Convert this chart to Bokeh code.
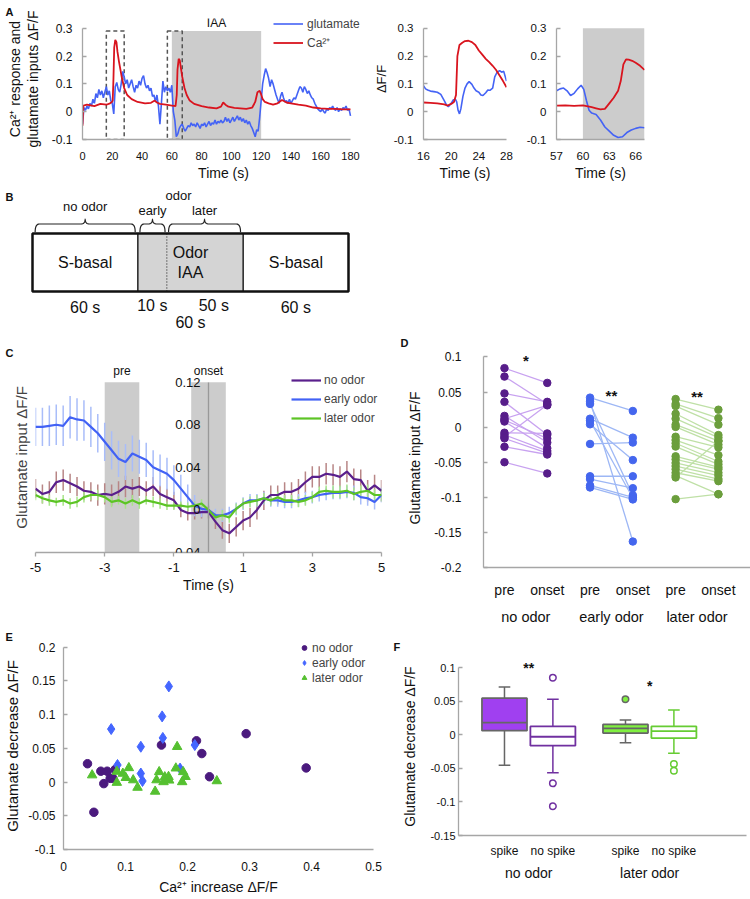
import numpy as np
from bokeh.plotting import figure
from bokeh.models import Range1d, FixedTicker, LinearAxis, Legend, LegendItem
from bokeh.layouts import column, row
from bokeh.embed import file_html
from bokeh.resources import INLINE
from bokeh.core.properties import value

FONT = "Liberation Sans"
AX = "#a6a6a6"
SHADE = "#cccccc"
BLUE = "#4463f5"
RED = "#d9141e"

# ================= DATA =================
# ---- Panel A: whole trace ----
A_GLU_T = list(range(181))
A_GLU = [
    -0.045, 0.015, 0.005, 0.020, 0.010, 0.030, 0.020, 0.045, 0.030, 0.065,
    0.050, 0.080, 0.060, 0.075, 0.050, 0.070, 0.090, 0.060, 0.075, 0.040,
    0.030, -0.008, 0.090, 0.105, 0.080, 0.070, 0.100, 0.145, 0.125, 0.100,
    0.115, 0.085, 0.100, 0.115, 0.090, 0.070, 0.095, 0.085, 0.110, 0.095,
    0.120, 0.130, 0.100, 0.085, 0.095, 0.075, 0.085, 0.055, 0.060, 0.035,
    0.060, 0.020, -0.045, 0.030, 0.110, 0.070, 0.090, 0.075, 0.085, 0.070,
    0.095, 0.000, -0.030, -0.090, -0.080, -0.060, -0.050, -0.045, -0.060, -0.070,
    -0.060, -0.050, -0.055, -0.040, -0.050, -0.045, -0.055, -0.040, -0.050, -0.060,
    -0.045, -0.050, -0.040, -0.055, -0.045, -0.035, -0.050, -0.040, -0.045, -0.030,
    -0.045, -0.035, -0.040, -0.030, -0.040, -0.035, -0.020, -0.035, -0.025, -0.040,
    -0.030, -0.020, -0.035, -0.025, -0.015, -0.030, -0.020, -0.035, -0.025, -0.040,
    -0.030, -0.045, -0.035, -0.050, -0.060, -0.075, -0.090, -0.065, -0.070, -0.020,
    0.040, 0.100, 0.130, 0.155, 0.140, 0.120, 0.090, 0.115, 0.100, 0.080,
    0.060, 0.045, 0.030, 0.055, 0.070, 0.050, 0.035, 0.040, 0.030, 0.045,
    0.030, 0.040, 0.050, 0.045, 0.060, 0.075, 0.090, 0.085, 0.070, 0.090,
    0.080, 0.065, 0.075, 0.060, 0.050, 0.045, 0.030, 0.020, 0.010, 0.005,
    0.000, 0.010, 0.000, -0.005, 0.010, 0.005, 0.015, 0.010, 0.020, 0.010,
    0.005, 0.015, 0.000, 0.010, 0.005, 0.015, 0.010, 0.020, 0.005, 0.010,
    -0.015]
A_CA_T = [0, 0.6, 3, 8, 12, 16, 18.5, 19.8, 20.3, 20.8,
          21.3, 22.0, 22.8, 23.5, 24.5, 25.5, 26.5, 28, 30, 33,
          37, 42, 46, 48.5, 50, 52, 56, 60, 62.5, 63.3,
          63.8, 64.6, 65.3, 66, 67, 68.5, 70, 72, 75, 80,
          85, 90, 93, 94.5, 96, 98, 102, 106, 110, 114,
          116, 117.5, 119, 120, 121, 122.5, 125, 128, 131, 134,
          137, 140, 145, 150, 155, 160, 165, 170, 175, 180]
A_CA = [-0.050, 0.022, 0.025, 0.020, 0.028, 0.025, 0.030, 0.035, 0.040, 0.120,
        0.230, 0.258, 0.250, 0.215, 0.180, 0.150, 0.120, 0.085, 0.060, 0.045,
        0.035, 0.030, 0.032, 0.040, 0.033, 0.028, 0.025, 0.022, 0.020, 0.060,
        0.150, 0.190, 0.185, 0.160, 0.125, 0.085, 0.060, 0.040, 0.028, 0.020,
        0.015, 0.012, 0.018, 0.033, 0.025, 0.018, 0.014, 0.012, 0.010, 0.015,
        0.035, 0.070, 0.075, 0.062, 0.045, 0.035, 0.030, 0.025, 0.030, 0.042,
        0.033, 0.030, 0.025, 0.022, 0.015, 0.012, 0.010, 0.010, 0.008, 0.008]
IAA_WINDOW = (60, 120)
ZOOM_WINDOWS = [(16, 28), (57, 67)]
A_X_TICKS = [0, 20, 40, 60, 80, 100, 120, 140, 160, 180]
A_Y_TICKS = [-0.1, 0, 0.1, 0.2, 0.3]
A_Y_LABELS = ["-0.1", "0", "0.1", "0.2", "0.3"]

# ---- Panel A insets ----
IN1_CA_T = [16, 17, 18, 19, 19.5, 20, 20.4, 20.7, 20.9, 21.2, 21.6, 22, 22.5, 23,
            23.5, 24, 24.5, 25, 25.5, 26, 26.5, 27, 27.5, 28]
IN1_CA = [0.033, 0.032, 0.030, 0.026, 0.022, 0.028, 0.035, 0.060, 0.200, 0.240, 0.248,
          0.254, 0.255, 0.250, 0.240, 0.220, 0.205, 0.190, 0.178, 0.165, 0.150, 0.130,
          0.110, 0.088]
IN1_GLU_T = [16, 16.3, 16.6, 17, 17.5, 18, 18.5, 19, 19.3, 19.6, 20, 20.3, 20.6, 20.8,
             21, 21.2, 21.4, 21.7, 22, 22.3, 22.6, 23, 23.3, 23.6, 24, 24.3, 24.6, 25,
             25.3, 25.6, 26, 26.3, 26.6, 27, 27.3, 27.6, 28]
IN1_GLU = [0.093, 0.082, 0.078, 0.074, 0.072, 0.070, 0.062, 0.040, 0.025, 0.018, 0.030,
           0.042, 0.045, 0.035, 0.005, -0.008, 0.010, 0.055, 0.085, 0.100, 0.108, 0.098,
           0.085, 0.075, 0.070, 0.060, 0.058, 0.068, 0.078, 0.077, 0.085, 0.125, 0.140,
           0.148, 0.142, 0.145, 0.110]
IN1_X_TICKS = [16, 20, 24, 28]
IN2_CA_T = [57, 58, 59, 60, 61, 61.5, 62, 62.5, 63, 63.5, 64, 64.3, 64.6, 64.9, 65.2,
            65.6, 66, 66.5, 67]
IN2_CA = [0.022, 0.023, 0.021, 0.023, 0.016, 0.012, 0.008, 0.010, 0.030, 0.050, 0.075,
          0.110, 0.170, 0.188, 0.187, 0.183, 0.176, 0.165, 0.150]
IN2_GLU_T = [57, 57.4, 57.8, 58.2, 58.6, 59, 59.4, 59.8, 60.1, 60.4, 60.7, 61, 61.5, 62,
             62.5, 63, 63.5, 64, 64.5, 65, 65.5, 66, 66.5, 67]
IN2_GLU = [0.075, 0.082, 0.085, 0.075, 0.058, 0.066, 0.082, 0.095, 0.080, 0.040, 0.005,
           -0.005, -0.010, -0.030, -0.055, -0.070, -0.085, -0.093, -0.090, -0.075,
           -0.066, -0.060, -0.056, -0.058]
IN2_X_TICKS = [57, 60, 63, 66]

# ---- Panel B: protocol ----
B_SEG_NAMES = ["S-basal", "Odor\nIAA", "S-basal"]
B_SEG_DUR = [60, 60, 60]
B_SEG_LABELS = ["60 s", "60 s", "60 s"]
B_EARLY_LABEL, B_LATER_LABEL = "10 s", "50 s"
B_BRACE_LABELS = ["no odor", "early", "later"]
B_ODOR_LABEL = "odor"

# ---- Panel C: averaged traces ----
C_T = np.round(np.arange(-5, 5.001, 0.2), 1)
C_NO = [0.020, 0.015, 0.017, 0.026, 0.028, 0.025, 0.022, 0.018, 0.017, 0.014,
        0.015, 0.014, 0.017, 0.022, 0.020, 0.022, 0.018, 0.022, 0.015, 0.012,
        0.009, 0.000, -0.003, -0.003, -0.002, -0.002, -0.011, -0.019, -0.022, -0.016,
        -0.010, -0.007, 0.000, 0.009, 0.014, 0.014, 0.017, 0.017, 0.020, 0.026,
        0.031, 0.031, 0.034, 0.033, 0.031, 0.036, 0.029, 0.028, 0.018, 0.023,
        0.018]
C_NO_ERR = [0.009, 0.009, 0.010, 0.010, 0.010, 0.009, 0.009, 0.009, 0.009, 0.010,
            0.010, 0.010, 0.010, 0.010, 0.009, 0.009, 0.009, 0.009, 0.008, 0.008,
            0.008, 0.007, 0.007, 0.006, 0.006, 0.006, 0.007, 0.008, 0.009, 0.009,
            0.009, 0.009, 0.009, 0.009, 0.009, 0.009, 0.009, 0.009, 0.009, 0.010,
            0.010, 0.010, 0.010, 0.010, 0.010, 0.010, 0.010, 0.010, 0.010, 0.010,
            0.010]
C_EARLY = [0.078, 0.078, 0.079, 0.080, 0.079, 0.087, 0.085, 0.084, 0.078, 0.072,
           0.064, 0.056, 0.048, 0.045, 0.053, 0.050, 0.047, 0.040, 0.037, 0.034,
           0.028, 0.020, 0.012, 0.004, 0.001, 0.000, -0.005, -0.005, -0.003, 0.001,
           0.006, 0.009, 0.009, 0.011, 0.009, 0.009, 0.0075, 0.0075, 0.009, 0.011,
           0.012, 0.014, 0.015, 0.016, 0.016, 0.017, 0.016, 0.012, 0.011, 0.0075,
           0.014]
C_EARLY_ERR = [0.018, 0.018, 0.019, 0.019, 0.019, 0.020, 0.020, 0.019, 0.019, 0.018,
               0.018, 0.018, 0.017, 0.017, 0.017, 0.016, 0.016, 0.016, 0.015, 0.015,
               0.014, 0.013, 0.012, 0.010, 0.008, 0.006, 0.006, 0.006, 0.006, 0.006,
               0.006, 0.006, 0.006, 0.006, 0.006, 0.006, 0.006, 0.006, 0.006, 0.006,
               0.006, 0.006, 0.006, 0.006, 0.006, 0.006, 0.007, 0.007, 0.007, 0.007,
               0.007]
C_LATER = [0.014, 0.011, 0.009, 0.0075, 0.009, 0.006, 0.0075, 0.012, 0.014, 0.014,
           0.012, 0.0075, 0.009, 0.006, 0.009, 0.006, 0.009, 0.0075, 0.006, 0.004,
           0.004, 0.004, 0.003, 0.004, 0.006, 0.000, -0.007, -0.005, -0.007, 0.001,
           0.006, 0.0075, 0.009, 0.011, 0.009, 0.012, 0.009, 0.009, 0.0075, 0.009,
           0.012, 0.017, 0.018, 0.017, 0.017, 0.018, 0.015, 0.017, 0.018, 0.014,
           0.014]
C_LATER_ERR = [0.005, 0.005, 0.005, 0.004, 0.005, 0.005, 0.005, 0.005, 0.005, 0.005,
               0.005, 0.005, 0.004, 0.005, 0.005, 0.005, 0.004, 0.005, 0.005, 0.004,
               0.004, 0.004, 0.004, 0.004, 0.004, 0.004, 0.004, 0.005, 0.005, 0.005,
               0.005, 0.005, 0.005, 0.005, 0.005, 0.005, 0.005, 0.005, 0.005, 0.005,
               0.005, 0.005, 0.005, 0.006, 0.006, 0.006, 0.006, 0.006, 0.006, 0.006,
               0.006]
C_PRE_WIN = (-3, -2)
C_ONSET_WIN = (-0.5, 0.5)
C_X_TICKS = [-5, -3, -1, 1, 3, 5]
C_Y_TICKS = [-0.04, 0, 0.04, 0.08, 0.12]
C_Y_LABELS = ["-0.04", "0", "0.04", "0.08", "0.12"]

# ---- Panel D: paired pre / onset ----
D_GROUPS = ["no odor", "early odor", "later odor"]
D_SUB = ["pre", "onset"]
D_NO_PRE = [0.084, 0.072, 0.048, 0.036, 0.016, 0.012, 0.008, -0.008, -0.011, -0.014,
            -0.016, -0.028, -0.050, 0.010]
D_NO_ONSET = [0.063, 0.033, 0.036, -0.011, -0.022, 0.031, -0.030, -0.009, -0.034,
              0.032, -0.037, -0.039, -0.066, -0.016]
D_EARLY_PRE = [0.042, 0.037, 0.033, 0.012, 0.009, 0.004, -0.024, -0.070, -0.074,
               -0.083, -0.086]
D_EARLY_ONSET = [0.023, -0.163, -0.097, -0.015, -0.101, -0.047, -0.022, -0.070,
                 -0.087, -0.100, -0.103]
D_LATER_PRE = [0.040, 0.033, 0.030, 0.019, 0.012, 0.0035, 0.0003, -0.0137, -0.0184,
               -0.023, -0.0277, -0.0416, -0.046, -0.051, -0.0555, -0.060, -0.065,
               -0.069, -0.0717, -0.1026]
D_LATER_ONSET = [0.0248, 0.0128, 0.0035, -0.0113, -0.015, -0.0197, -0.025, -0.029,
                 -0.040, -0.049, -0.053, -0.057, -0.060, -0.065, -0.069, -0.074,
                 -0.077, -0.0956, -0.0197, -0.0956]
D_STARS = ["*", "**", "**"]
D_STAR_Y = [0.101, 0.051, 0.049]
D_Y_TICKS = [-0.2, -0.15, -0.1, -0.05, 0, 0.05, 0.1]
D_Y_LABELS = ["-0.2", "-0.15", "-0.1", "-0.05", "0", "0.05", "0.1"]

# ---- Panel E: scatter ----
E_NO_X = [0.0387, 0.0602, 0.0704, 0.0753, 0.0796, 0.0833, 0.065, 0.049, 0.158, 0.2145,
          0.2231, 0.2355, 0.2946, 0.3914]
E_NO_Y = [0.0272, 0.0161, 0.0161, 0.0055, 0.0055, 0.0185, -0.0023, -0.0448, 0.0549,
          0.0612, 0.0423, 0.0079, 0.0718, 0.0210]
E_EARLY_X = [0.0769, 0.0871, 0.1247, 0.1247, 0.1274, 0.1591, 0.1602, 0.1699, 0.2118, 0.188]
E_EARLY_Y = [0.0786, 0.0253, 0.0524, 0.0127, 0.0016, 0.0974, 0.0655, 0.1419, 0.0549, 0.020]
E_LATER_X = [0.0462, 0.086, 0.086, 0.0957, 0.1005, 0.1054, 0.1124, 0.1194, 0.1478, 0.150,
             0.1543, 0.1613, 0.1634, 0.1694, 0.1704, 0.1812, 0.1833, 0.1914, 0.193,
             0.1968, 0.2473]
E_LATER_Y = [0.0103, 0.0156, -0.0008, 0.0127, 0.0064, 0.021, 0.003, -0.0081, -0.0139,
             0.003, 0.0151, 0.0002, 0.0074, 0.0079, 0.0026, 0.0205, 0.0524, 0.0002,
             0.0151, 0.0079, 0.0016]
E_X_TICKS = [0, 0.1, 0.2, 0.3, 0.4, 0.5]
E_X_LABELS = ["0", "0.1", "0.2", "0.3", "0.4", "0.5"]
E_Y_TICKS = [-0.1, -0.05, 0, 0.05, 0.1, 0.15, 0.2]
E_Y_LABELS = ["-0.1", "-0.05", "0", "0.05", "0.1", "0.15", "0.2"]

# ---- Panel F: box plots ----
F_POS = [0, 1, 2.5, 3.5]
F_SUB = ["spike", "no spike", "spike", "no spike"]
F_GROUPS = ["no odor", "later odor"]
F_WHISK_HI = [0.071, 0.053, 0.022, 0.037]
F_Q3 = [0.0545, 0.0124, 0.0153, 0.0124]
F_MED = [0.018, -0.003, 0.0094, 0.0054]
F_Q1 = [0.006, -0.0163, 0.0025, -0.005]
F_WHISK_LO = [-0.0455, -0.0564, -0.0119, -0.0277]
F_OUT_X = [1, 1, 1, 2.5, 3.5, 3.5]
F_OUT_Y = [0.085, -0.0723, -0.1064, 0.053, -0.0436, -0.0535]
F_STARS = ["**", "*"]
F_STAR_Y = [0.105, 0.079]
F_Y_TICKS = [-0.15, -0.1, -0.05, 0, 0.05, 0.1]
F_Y_LABELS = ["-0.15", "-0.1", "-0.05", "0", "0.05", "0.1"]


# ================= HELPERS =================
def base_fig(w, h, xr, yr, left, right, top, bottom):
    p = figure(width=w, height=h, x_range=xr, y_range=yr, output_backend="svg",
               toolbar_location=None, min_border_left=left, min_border_right=right,
               min_border_top=top, min_border_bottom=bottom)
    p.outline_line_color = None
    p.xgrid.visible = False
    p.ygrid.visible = False
    try:
        p.frame_align = False
    except Exception:
        pass
    return p


def style_axis(ax, ticks, labels, tick_px, standoff, label_px=14, label_standoff=4,
               tick_in=0, tick_out=0, line=True):
    ax.ticker = FixedTicker(ticks=list(ticks))
    ax.major_label_overrides = {float(t): l for t, l in zip(ticks, labels)}
    ax.axis_line_color = AX if line else None
    ax.axis_line_width = 1.3
    ax.major_tick_line_color = AX
    ax.major_tick_line_width = 1.3
    ax.major_tick_in = tick_in
    ax.major_tick_out = tick_out
    ax.minor_tick_line_color = None
    ax.major_label_text_font = FONT
    ax.major_label_text_font_size = f"{tick_px}px"
    ax.major_label_text_color = "#111111"
    ax.major_label_standoff = standoff
    ax.axis_label_text_font = FONT
    ax.axis_label_text_font_style = "normal"
    ax.axis_label_text_font_size = f"{label_px}px"
    ax.axis_label_text_color = "#111111"
    ax.axis_label_standoff = label_standoff


def letter(p, txt_, offset, standoff):
    p.title.text = txt_
    p.title.align = "left"
    p.title.offset = offset
    p.title.standoff = standoff
    p.title.text_font = FONT
    p.title.text_font_size = "11px"
    p.title.text_font_style = "bold"
    p.title.text_color = "#111111"


def legend(items, loc, font_px, glyph_w, row_h, spacing, standoff, padding=0):
    return Legend(items=items, location=loc, label_text_font=FONT,
                  label_text_font_size=f"{font_px}px", glyph_width=glyph_w,
                  glyph_height=row_h, label_height=row_h, spacing=spacing,
                  label_standoff=standoff, padding=padding, margin=0,
                  background_fill_alpha=0, border_line_color=None)


def txt(p, x, y, s, size, align="center", baseline="middle", bold=False, **kw):
    return p.text(x=x, y=y, text=s, text_align=align, text_baseline=baseline,
                  text_font=value(FONT), text_font_size=f"{size}px", text_color="#111111",
                  text_font_style="bold" if bold else "normal", **kw)


# ================= PANEL A =================
A_FRAME_W = 282                       # frame extends right of 180 s to hold legend
A_X_END = 180 * A_FRAME_W / 268
pA = base_fig(370, 188, Range1d(0, A_X_END), Range1d(-0.1, 0.335), 82, 6, 18, 49)
pA.quad(left=[IAA_WINDOW[0]], right=[IAA_WINDOW[1]], bottom=[-0.1], top=[0.29],
        fill_color=SHADE, line_color=None)
pA.quad(left=[w[0] for w in ZOOM_WINDOWS], right=[w[1] for w in ZOOM_WINDOWS],
        bottom=[-0.1] * len(ZOOM_WINDOWS), top=[0.29] * len(ZOOM_WINDOWS),
        fill_color=None, line_color="#555555", line_dash="4 3", line_width=1.5)
rg = pA.line(A_GLU_T, A_GLU, line_color=BLUE, line_width=1.6)
rc = pA.line(A_CA_T, A_CA, line_color=RED, line_width=1.8)
txt(pA, [sum(IAA_WINDOW) / 2], [0.29], ["IAA"], 12, baseline="bottom", y_offset=-1)
style_axis(pA.xaxis[0], A_X_TICKS, [str(t) for t in A_X_TICKS], 11, 12, 14, 2)
pA.xaxis[0].axis_label = "Time (s)"
pA.xaxis[0].bounds = (0, 180)
style_axis(pA.yaxis[0], A_Y_TICKS, A_Y_LABELS, 12, 10, 14, 8, tick_in=4)
pA.yaxis[0].axis_label = "Ca²⁺ response and\nglutamate inputs ΔF/F"
pA.yaxis[0].axis_label_text_line_height = 1.1
pA.yaxis[0].bounds = (-0.1, 0.3)
pA.add_layout(legend([LegendItem(label="glutamate", renderers=[rg]),
                      LegendItem(label="Ca²⁺", renderers=[rc])],
                     (191, 88), 12, 30, 15, 3, 4))
letter(pA, "A", -77, 2)


def inset(w, left, right, xr, glu_t, glu, ca_t, ca, xticks, ylabel, shade=None):
    p = base_fig(w, 188, Range1d(*xr), Range1d(-0.1, 0.335), left, right, 18, 49)
    if shade is not None:
        p.quad(left=[shade[0]], right=[shade[1]], bottom=[-0.1], top=[0.3],
               fill_color=SHADE, line_color=None)
    p.line(glu_t, glu, line_color=BLUE, line_width=1.6)
    p.line(ca_t, ca, line_color=RED, line_width=1.8)
    style_axis(p.xaxis[0], xticks, [str(t) for t in xticks], 11.5, 12, 14, 2)
    p.xaxis[0].axis_label = "Time (s)"
    style_axis(p.yaxis[0], A_Y_TICKS, A_Y_LABELS, 11.5, 10, 13, 2, tick_in=4)
    p.yaxis[0].bounds = (-0.1, 0.3)
    if ylabel:
        p.yaxis[0].axis_label = ylabel
    return p


pA1 = inset(145, 48, 9, ZOOM_WINDOWS[0], IN1_GLU_T, IN1_GLU, IN1_CA_T, IN1_CA,
            IN1_X_TICKS, "ΔF/F")
pA2 = inset(149, 41, 20, ZOOM_WINDOWS[1], IN2_GLU_T, IN2_GLU, IN2_CA_T, IN2_CA,
            IN2_X_TICKS, None, shade=(IAA_WINDOW[0], ZOOM_WINDOWS[1][1]))

# ================= PANEL B =================
B_PX = 316 / sum(B_SEG_DUR)          # drawing scale, px per second
pB = figure(width=372, height=145, x_range=Range1d(-32 / B_PX, 340 / B_PX),
            y_range=Range1d(145, 0), output_backend="svg", toolbar_location=None,
            x_axis_type=None, y_axis_type=None, min_border=0)
pB.outline_line_color = None
pB.xgrid.visible = False
pB.ygrid.visible = False
edges = np.concatenate([[0], np.cumsum(B_SEG_DUR)])
mids = (edges[:-1] + edges[1:]) / 2
BOX_T, BOX_B = 45, 103
early_end = edges[1] + 16.5          # schematic (not to scale) early/later split
pB.quad(left=[edges[1]], right=[edges[2]], top=[BOX_T], bottom=[BOX_B],
        fill_color="#d4d4d4", line_color=None)
pB.segment(x0=list(edges[1:3]), y0=[BOX_T] * 2, x1=list(edges[1:3]), y1=[BOX_B] * 2,
           line_color="#222222", line_width=1.5)
pB.segment(x0=[early_end], y0=[BOX_T], x1=[early_end], y1=[BOX_B],
           line_color="#333333", line_width=1.2, line_dash="1 2")
pB.quad(left=[edges[0]], right=[edges[-1]], top=[BOX_T], bottom=[BOX_B],
        fill_color=None, line_color="#111111", line_width=2.5)
txt(pB, list(mids), [74, 74, 74], B_SEG_NAMES, 16)
txt(pB, [mids[0], mids[2]], [119, 119], [B_SEG_LABELS[0], B_SEG_LABELS[2]], 16)
txt(pB, [mids[1]], [134], [B_SEG_LABELS[1]], 16)
txt(pB, [(edges[1] + early_end) / 2, (early_end + edges[2]) / 2 + 5],
    [117, 117], [B_EARLY_LABEL, B_LATER_LABEL], 16)


def brace(x0, x1, y_tip=43.7, y_flat=35.5, y_peak=30.3, d=2.4):
    xm = (x0 + x1) / 2
    t = np.linspace(0, 1, 10)

    def q(p0, c, p1):
        return (list((1 - t) ** 2 * p0[0] + 2 * (1 - t) * t * c[0] + t ** 2 * p1[0]),
                list((1 - t) ** 2 * p0[1] + 2 * (1 - t) * t * c[1] + t ** 2 * p1[1]))
    parts = [q((x0, y_tip), (x0, y_flat), (x0 + d, y_flat)),
             q((xm - d, y_flat), (xm, y_flat), (xm, y_peak)),
             q((xm, y_peak), (xm, y_flat), (xm + d, y_flat)),
             q((x1 - d, y_flat), (x1, y_flat), (x1, y_tip))]
    xs, ys = [], []
    for a, b in parts:
        xs += a
        ys += b
    return xs, ys


brace_spans = [(edges[0] + 1.5, edges[1] - 1.5), (edges[1] + 1.2, early_end - 1),
               (early_end + 1, edges[2] - 1.5)]
bx, by = zip(*[brace(a, b) for a, b in brace_spans])
pB.multi_line(xs=list(bx), ys=list(by), line_color="#222222", line_width=1.2)
bcent = [(a + b) / 2 for a, b in brace_spans]
txt(pB, bcent, [18, 22, 22], B_BRACE_LABELS, 13)
txt(pB, [(bcent[1] + bcent[2]) / 2], [7], [B_ODOR_LABEL], 13)
txt(pB, [-27 / B_PX], [2], ["B"], 11, align="left", baseline="top", bold=True)

# ================= PANEL C =================
pC = base_fig(395, 294, Range1d(-5, 5), Range1d(-0.04, 0.1385), 35, 14, 29, 75)
for win in (C_PRE_WIN, C_ONSET_WIN):
    pC.quad(left=[win[0]], right=[win[1]], bottom=[-0.04], top=[0.12],
            fill_color=SHADE, line_color=None)
txt(pC, [sum(C_PRE_WIN) / 2, sum(C_ONSET_WIN) / 2], [0.12, 0.12], ["pre", "onset"], 12,
    y_offset=-11)
series = [("no odor", C_NO, C_NO_ERR, "#5a1f8c", "#b88686"),
          ("early odor", C_EARLY, C_EARLY_ERR, "#4262f5", "#a9bdf9"),
          ("later odor", C_LATER, C_LATER_ERR, "#5cc425", "#a8e58a")]
for name, m, e, col, ecol in series:
    m = np.array(m)
    e = np.array(e)
    pC.segment(x0=C_T, y0=m - e, x1=C_T, y1=m + e, line_color=ecol, line_width=1.5)
c_items = []
for name, m, e, col, ecol in series:
    r = pC.line(C_T, m, line_color=col, line_width=2.2)
    c_items.append(LegendItem(label=name, renderers=[r]))
style_axis(pC.xaxis[0], C_X_TICKS, [str(t) for t in C_X_TICKS], 13, 6, 14, 2, tick_out=4)
pC.xaxis[0].axis_label = "Time (s)"
yl = pC.yaxis[0]
yl.ticker = FixedTicker(ticks=[])
yl.axis_line_color = None
yl.major_tick_line_color = None
yl.minor_tick_line_color = None
yl.major_label_standoff = 0
yl.major_tick_out = 0
yl.axis_label = "Glutamate input ΔF/F"
yl.axis_label_text_font = FONT
yl.axis_label_text_font_style = "normal"
yl.axis_label_text_font_size = "15px"
yl.axis_label_standoff = 6
mid_ax = LinearAxis(fixed_location=0)
style_axis(mid_ax, C_Y_TICKS, C_Y_LABELS, 13, 8)
mid_ax.axis_line_color = "#999999"
mid_ax.bounds = (-0.04, 0.12)
pC.add_layout(mid_ax, "left")
pC.add_layout(legend(c_items, (256, 127), 12, 30, 14, 5, 3, padding=2))
letter(pC, "C", -30, 8)

# ================= PANEL D =================
pD = base_fig(355, 294, Range1d(-0.49, 5.75), Range1d(-0.2, 0.112), 88, 0, 15, 57)
d_sets = [(D_NO_PRE, D_NO_ONSET, "#571d8a", "#c8a2f0"),
          (D_EARLY_PRE, D_EARLY_ONSET, "#4466ee", "#9db7f5"),
          (D_LATER_PRE, D_LATER_ONSET, "#6b9e3c", "#bfe0a6")]
for k, (pre, ons, dot, ln) in enumerate(d_sets):
    x0, x1 = 2 * k, 2 * k + 1
    pD.segment(x0=[x0] * len(pre), y0=pre, x1=[x1] * len(ons), y1=ons,
               line_color=ln, line_width=1.3)
    pD.scatter([x0] * len(pre), pre, size=7.5, color=dot)
    pD.scatter([x1] * len(ons), ons, size=7.5, color=dot)
txt(pD, [0.5, 2.5, 4.5], D_STAR_Y, D_STARS, 15, bold=True, y_offset=4)
style_axis(pD.yaxis[0], D_Y_TICKS, D_Y_LABELS, 12, 22, 14, 8, tick_in=4)
pD.yaxis[0].axis_label = "Glutamate input ΔF/F"
pD.yaxis[0].bounds = (-0.2, 0.1)
D_X_POS = list(range(2 * len(D_GROUPS)))
style_axis(pD.xaxis[0], D_X_POS, D_SUB * len(D_GROUPS), 14, 14)
gax = LinearAxis()
style_axis(gax, [2 * k + 0.5 for k in range(len(D_GROUPS))], D_GROUPS, 14.5, 8,
           line=False)
gax.major_tick_line_color = None
pD.add_layout(gax, "below")
letter(pD, "D", -83, 0)

# ================= PANEL E =================
pE = base_fig(390, 270, Range1d(0, 0.5), Range1d(-0.1, 0.207), 63, 17, 15, 48)
r1 = pE.scatter(E_NO_X, E_NO_Y, marker="circle", size=8.5, color="#4b1a7e")
r2 = pE.scatter(E_EARLY_X, E_EARLY_Y, marker="diamond", size=11, color="#4466ff")
r3 = pE.scatter(E_LATER_X, E_LATER_Y, marker="triangle", size=9.5, color="#55c030")
style_axis(pE.xaxis[0], E_X_TICKS, E_X_LABELS, 12, 12, 14, 5)
pE.xaxis[0].axis_label = "Ca²⁺ increase ΔF/F"
style_axis(pE.yaxis[0], E_Y_TICKS, E_Y_LABELS, 12, 8, 15, 4, tick_in=4)
pE.yaxis[0].axis_label = "Glutamate decrease ΔF/F"
pE.yaxis[0].bounds = (-0.1, 0.2)
pE.add_layout(legend([LegendItem(label="no odor", renderers=[r1]),
                      LegendItem(label="early odor", renderers=[r2]),
                      LegendItem(label="later odor", renderers=[r3])],
                     (235, 164), 12, 12, 15, 0, 2))
letter(pE, "E", -58, 0)

# ================= PANEL F =================
pF = base_fig(360, 270, Range1d(-0.95, 5.0), Range1d(-0.15, 0.115), 68, 4, 30, 62)
F_FILL = ["#a040f0", "#ffffff", "#80f040", "#ffffff"]
F_LINE = ["#666666", "#7030a0", "#666666", "#66cc33"]
pF.segment(x0=F_POS, y0=F_WHISK_LO, x1=F_POS, y1=F_Q1, line_color=F_LINE, line_width=1.5)
pF.segment(x0=F_POS, y0=F_Q3, x1=F_POS, y1=F_WHISK_HI, line_color=F_LINE, line_width=1.5)
cap = 0.12
pF.segment(x0=[x - cap for x in F_POS], y0=F_WHISK_LO, x1=[x + cap for x in F_POS],
           y1=F_WHISK_LO, line_color=F_LINE, line_width=1.5)
pF.segment(x0=[x - cap for x in F_POS], y0=F_WHISK_HI, x1=[x + cap for x in F_POS],
           y1=F_WHISK_HI, line_color=F_LINE, line_width=1.5)
pF.vbar(x=F_POS, width=0.93, top=F_Q3, bottom=F_Q1, fill_color=F_FILL,
        line_color=F_LINE, line_width=1.8)
pF.segment(x0=[x - 0.465 for x in F_POS], y0=F_MED, x1=[x + 0.465 for x in F_POS],
           y1=F_MED, line_color=F_LINE, line_width=1.8)
out_line = {0: "#666666", 1: "#7030a0", 2.5: "#666666", 3.5: "#66cc33"}
out_fill = {0: "#ffffff", 1: "#ffffff", 2.5: "#80f040", 3.5: "#ffffff"}
pF.scatter(F_OUT_X, F_OUT_Y, size=6.5, line_width=1.5,
           line_color=[out_line[x] for x in F_OUT_X],
           fill_color=[out_fill[x] for x in F_OUT_X])
txt(pF, [0.5, 3.0], F_STAR_Y, F_STARS, 14, bold=True, y_offset=4)
style_axis(pF.yaxis[0], F_Y_TICKS, F_Y_LABELS, 11, 3, 14, 9, tick_in=4)
pF.yaxis[0].axis_label = "Glutamate decrease ΔF/F"
pF.yaxis[0].bounds = (-0.15, 0.1)
style_axis(pF.xaxis[0], F_POS, F_SUB, 12, 8)
fgax = LinearAxis()
style_axis(fgax, [0.5, 3.0], F_GROUPS, 14, 4, line=False)
fgax.major_tick_line_color = None
pF.add_layout(fgax, "below")
letter(pF, "F", -65, 10)

layout = column(row(pA, pA1, pA2), pB, row(pC, pD), row(pE, pF))
open("out.html", "w").write(file_html(layout, INLINE))
